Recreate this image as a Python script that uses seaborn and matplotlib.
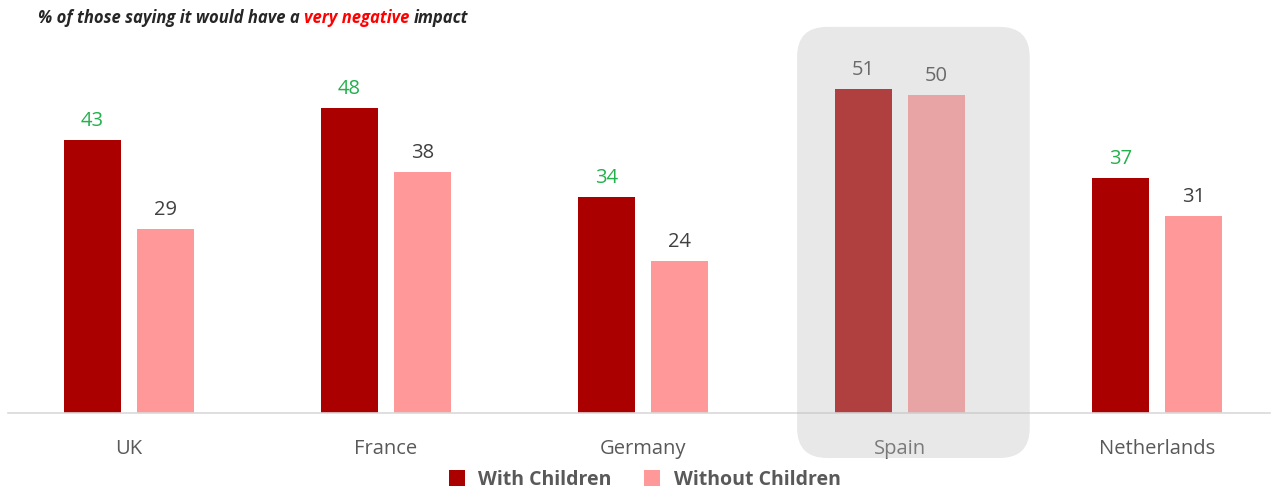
import matplotlib
matplotlib.use("Agg")
import matplotlib.pyplot as plt
import seaborn as sns
import pandas as pd
from matplotlib.patches import FancyBboxPatch
from matplotlib.lines import Line2D
from matplotlib.transforms import IdentityTransform

countries = ["UK", "France", "Germany", "Spain", "Netherlands"]
series_names = ["With Children", "Without Children"]
with_children = [43, 48, 34, 51, 37]
without_children = [29, 38, 24, 50, 31]
with_label_colors = ["#22B14C", "#22B14C", "#22B14C", "#404040", "#22B14C"]
without_label_colors = ["#404040"] * 5
highlight = "Spain"
colors = ["#AA0000", "#FF9999"]

df = pd.DataFrame({
    "country": countries * 2,
    "series": [series_names[0]] * 5 + [series_names[1]] * 5,
    "value": with_children + without_children,
})

sns.set_theme(style="white")
plt.rcParams["font.family"] = ["Open Sans", "DejaVu Sans"]

fig = plt.figure(figsize=(12.78, 4.91), dpi=100)
ax = fig.add_axes([0.00626, 0.1589, 0.9875, 0.776])

sns.barplot(data=df, x="country", y="value", hue="series", order=countries,
            hue_order=series_names, palette=colors, width=0.568, gap=0.218,
            saturation=1, legend=False, ax=ax, linewidth=0)

ax.set_xlim(-0.47, 4.44)
ax.set_ylim(0, 60)
ax.set_xlabel("")
ax.set_ylabel("")
ax.set_yticks([])
for s in ["top", "left", "right"]:
    ax.spines[s].set_visible(False)
ax.spines["bottom"].set_color("#d9d9d9")
ax.spines["bottom"].set_linewidth(1.2)
ax.tick_params(axis="x", length=0, pad=18.5, labelsize=14.5, labelcolor="#595959")

label_colors = [with_label_colors, without_label_colors]
for ci, cont in enumerate(ax.containers):
    for bi, bar in enumerate(cont):
        ax.annotate(f"{int(bar.get_height())}",
                    xy=(bar.get_x() + bar.get_width() / 2, bar.get_height()),
                    xytext=(0, 6.5), textcoords="offset points",
                    ha="center", va="bottom", fontsize=14.5,
                    color=label_colors[ci][bi])

# title
tkw = dict(fontsize=12, fontweight="bold", fontstyle="italic")
t1 = fig.text(38 / 1278, 1 - 18 / 491, "% of those saying it would have a ",
              color="#262626", va="center", ha="left", **tkw)
t2 = ax.annotate("very negative ", xy=(1, 0), xycoords=t1, va="bottom", ha="left",
                 color="#FF0000", annotation_clip=False, **tkw)
t3 = ax.annotate("impact", xy=(1, 0), xycoords=t2, va="bottom", ha="left",
                 color="#262626", annotation_clip=False, **tkw)

# legend
handles = [Line2D([0], [0], marker="s", linestyle="none", markersize=11,
                  markerfacecolor=c, markeredgewidth=0) for c in colors]
leg = fig.legend(handles, series_names, loc="center", bbox_to_anchor=(0.5, 1 - 480 / 491),
                 ncol=2, frameon=False, handletextpad=0.1, columnspacing=1.1,
                 prop={"weight": "bold", "size": 14})
for txt in leg.get_texts():
    txt.set_color("#595959")

# highlight box around Spain (semi-transparent overlay)
fig.canvas.draw()
idx = countries.index(highlight)
x0, y0 = ax.transData.transform((idx - 0.40, 0))
x1, y1 = ax.transData.transform((idx + 0.505, 60.8))
y0 = y0 - 45
r = 30
box = FancyBboxPatch((x0 + r, y0 + r), (x1 - x0) - 2 * r, (y1 - y0) - 2 * r,
                     boxstyle=f"round,pad={r}", transform=IdentityTransform(),
                     facecolor="#BCBCBC", edgecolor="none", alpha=0.34, zorder=10)
fig.add_artist(box)

fig.savefig("out.png", dpi=100)
